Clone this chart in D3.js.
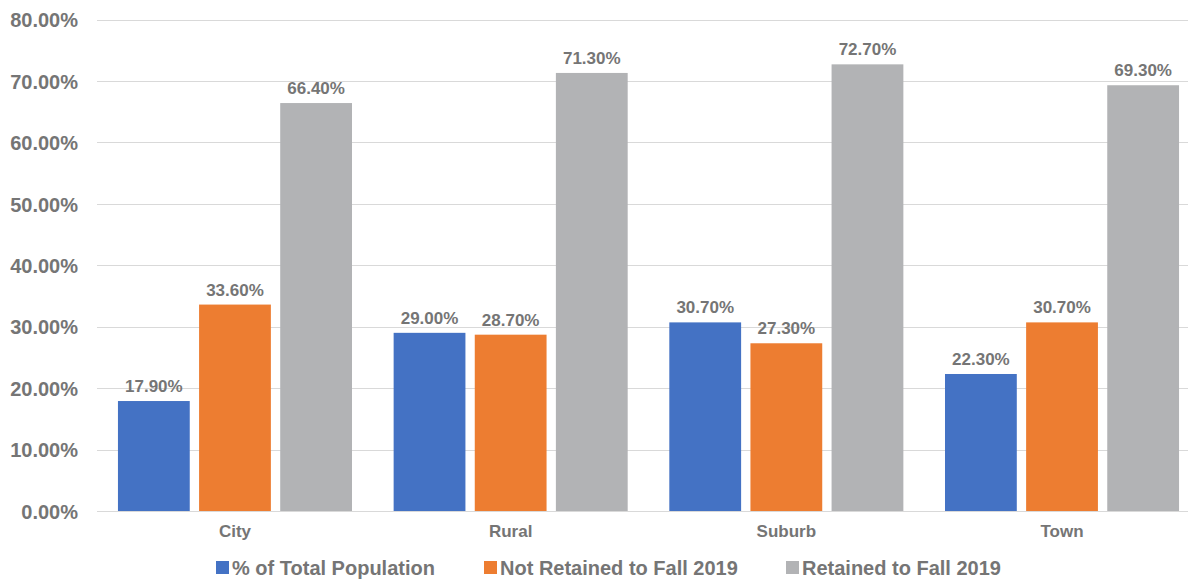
<!DOCTYPE html>
<html><head><meta charset="utf-8">
<script src="https://cdn.jsdelivr.net/npm/d3@7"></script>
<style>body{margin:0;background:#fff}svg{display:block}text{font-family:"Liberation Sans",Arial,sans-serif;font-weight:bold;fill:#757575}</style>
</head><body><svg id="c" width="1188" height="579"></svg>
<script>
const categories = ["City","Rural","Suburb","Town"];
const seriesNames = ["% of Total Population","Not Retained to Fall 2019","Retained to Fall 2019"];
const totalPopulation = [17.9, 29.0, 30.7, 22.3];
const notRetained = [33.6, 28.7, 27.3, 30.7];
const retained = [66.4, 71.3, 72.7, 69.3];
const yTicks = [0,10,20,30,40,50,60,70,80];
const colors = ["#4472C4","#ED7D31","#B2B3B5"];

const series = [totalPopulation, notRetained, retained];
const svg = d3.select("#c");
const x0 = d3.scaleBand().domain(categories).range([97, 1200]).paddingInner(0.151).paddingOuter(0.076);
const x1 = d3.scaleBand().domain(d3.range(3)).range([0, x0.bandwidth()]).paddingInner(0.115);
const y = d3.scaleLinear().domain([0,80]).range([511, 19.5]);

// gridlines
svg.append("g").selectAll("line").data(yTicks).join("line")
  .attr("x1",97).attr("x2",1188).attr("y1",d=>Math.round(y(d))+0.5).attr("y2",d=>Math.round(y(d))+0.5)
  .attr("stroke","#d9d9d9").attr("stroke-width",1.2);

// y labels
const yAxis = d3.axisLeft(y).tickValues(yTicks).tickFormat(d=>d.toFixed(2)+"%").tickSize(0).tickPadding(0);
const ga = svg.append("g").attr("transform","translate(78,0)").call(yAxis);
ga.select(".domain").remove();
ga.selectAll("text").style("font-size","20px").attr("dy","0.36em").attr("fill","#757575");

// bars
const groups = svg.append("g").selectAll("g").data(categories).join("g")
  .attr("transform",c=>`translate(${x0(c)},0)`);
groups.each(function(c,ci){
  const g = d3.select(this);
  series.forEach((s,si)=>{
    g.append("rect").attr("x",x1(si)).attr("width",x1.bandwidth())
      .attr("y",y(s[ci])).attr("height",y(0)-y(s[ci])).attr("fill",colors[si]);
    g.append("text").attr("x",x1(si)+x1.bandwidth()/2).attr("y",y(s[ci])-9)
      .attr("text-anchor","middle").style("font-size","17px").text(s[ci].toFixed(2)+"%");
  });
});

// x axis
const xAxis = d3.axisBottom(x0).tickSize(0).tickPadding(0);
const gx = svg.append("g").attr("transform","translate(0,537)").call(xAxis);
gx.select(".domain").remove();
gx.selectAll("text").attr("dy",0).style("font-size","17px").attr("fill","#757575");

// legend
const legX = [216, 484, 786];
const leg = svg.append("g").selectAll("g").data(seriesNames).join("g")
  .attr("transform",(d,i)=>`translate(${legX[i]},0)`);
leg.append("rect").attr("x",0).attr("y",561).attr("width",13).attr("height",13).attr("fill",(d,i)=>colors[i]);
leg.append("text").attr("x",16).attr("y",575).style("font-size",'20px').text(d=>d);
</script></body></html>
